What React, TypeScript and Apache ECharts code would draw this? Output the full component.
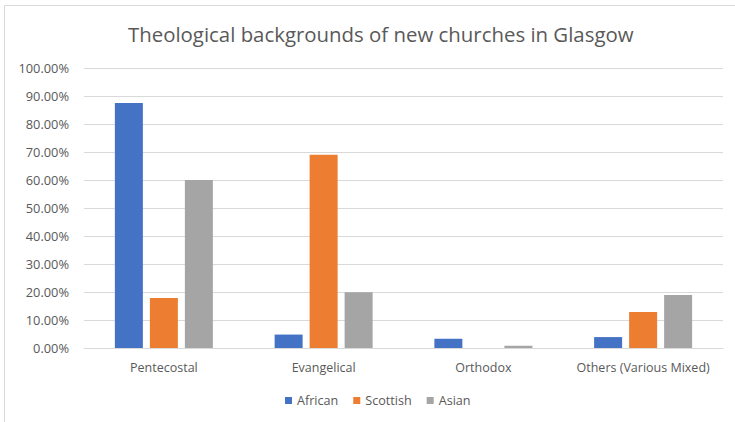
import React, { useEffect, useRef } from "react";
import * as echarts from "echarts";

const categories = ["Pentecostal", "Evangelical", "Orthodox", "Others (Various Mixed)"];
const african = [87.5, 4.8, 3.3, 3.9];
const scottish = [17.9, 69.0, 0, 12.9];
const asian = [60.0, 19.9, 0.8, 18.9];
const seriesNames = ["African", "Scottish", "Asian"];
const colors = ["#4472C4", "#ED7D31", "#A5A5A5"];

const FONT = "'Open Sans', 'Noto Sans', sans-serif";

export default function App() {
  const ref = useRef<HTMLDivElement>(null);

  useEffect(() => {
    if (!ref.current) return;
    const chart = echarts.init(ref.current, undefined, { renderer: "svg" });
    const data = [african, scottish, asian];
    chart.setOption({
      animation: false,
      backgroundColor: "#ffffff",
      textStyle: { fontFamily: FONT },
      title: {
        text: "Theological backgrounds of new churches in Glasgow",
        left: 123,
        top: 19,
        textStyle: { fontFamily: FONT, fontSize: 20.4, fontWeight: "normal", color: "#595959" },
      },
      graphic: [
        {
          type: "rect",
          shape: { x: 4.5, y: 5.5, width: 900, height: 600 },
          style: { fill: "none", stroke: "#d9d9d9", lineWidth: 1 },
          silent: true,
        },
      ],
      legend: {
        bottom: 10,
        left: 280,
        itemWidth: 7,
        itemHeight: 7,
        itemGap: 15,
        icon: "rect",
        textStyle: { fontFamily: FONT, fontSize: 12.6, color: "#595959" },
        data: seriesNames,
      },
      grid: { left: 84, right: 12, top: 68, bottom: 74 },
      xAxis: {
        type: "category",
        data: categories,
        axisLine: { lineStyle: { color: "#d9d9d9" } },
        axisTick: { show: false },
        axisLabel: { interval: 0, fontFamily: FONT, fontSize: 12.5, color: "#595959", margin: 13 },
      },
      yAxis: {
        type: "value",
        min: 0,
        max: 100,
        interval: 10,
        axisLine: { show: false },
        axisTick: { show: false },
        splitLine: { lineStyle: { color: "#d9d9d9" } },
        axisLabel: {
          fontFamily: FONT,
          fontSize: 12.8,
          color: "#595959",
          margin: 15,
          formatter: (v: number) => v.toFixed(2) + "%",
        },
      },
      series: seriesNames.map((name, i) => ({
        name,
        type: "bar",
        data: data[i],
        barWidth: 28,
        barGap: "25%",
        itemStyle: { color: colors[i] },
      })),
    });
    return () => chart.dispose();
  }, []);

  return (
    <div
      ref={ref}
      style={{ position: "fixed", left: 0, top: 0, width: 735, height: 422 }}
    />
  );
}
